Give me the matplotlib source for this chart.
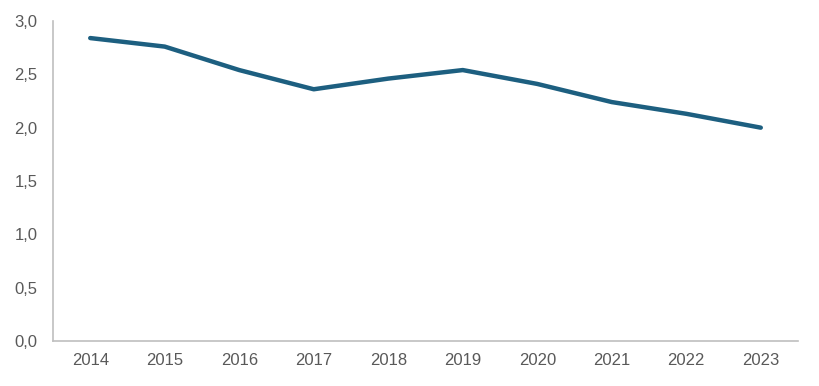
import matplotlib
matplotlib.use("Agg")
import matplotlib.pyplot as plt
from matplotlib.ticker import FuncFormatter

years = ["2014", "2015", "2016", "2017", "2018", "2019", "2020", "2021", "2022", "2023"]
values = [2.84, 2.76, 2.54, 2.36, 2.46, 2.54, 2.41, 2.24, 2.13, 2.00]

plt.rcParams['font.family'] = ['Liberation Sans', 'DejaVu Sans']

fig = plt.figure(figsize=(8.2, 3.86), dpi=100)
ax = fig.add_axes([0.0646, 0.1166, 0.9086, 0.829])

x = range(len(years))
ax.plot(x, values, color="#1d5f80", lw=3.2, solid_capstyle="round", solid_joinstyle="round")

ax.set_xlim(-0.5, len(years) - 0.5)
ax.set_ylim(0, 3.0)
ax.set_xticks(list(x))
ax.set_xticklabels(years)
ax.set_yticks([0, 0.5, 1.0, 1.5, 2.0, 2.5, 3.0])
ax.yaxis.set_major_formatter(FuncFormatter(lambda v, p: f"{v:.1f}".replace(".", ",")))

for s in ["top", "right"]:
    ax.spines[s].set_visible(False)
for s in ["left", "bottom"]:
    ax.spines[s].set_color("#bfbfbf")
    ax.spines[s].set_linewidth(1.2)

ax.tick_params(length=0, labelsize=12, colors="#595959")
ax.tick_params(axis="x", pad=9)
ax.tick_params(axis="y", pad=11)

fig.savefig("out.png", dpi=100)
